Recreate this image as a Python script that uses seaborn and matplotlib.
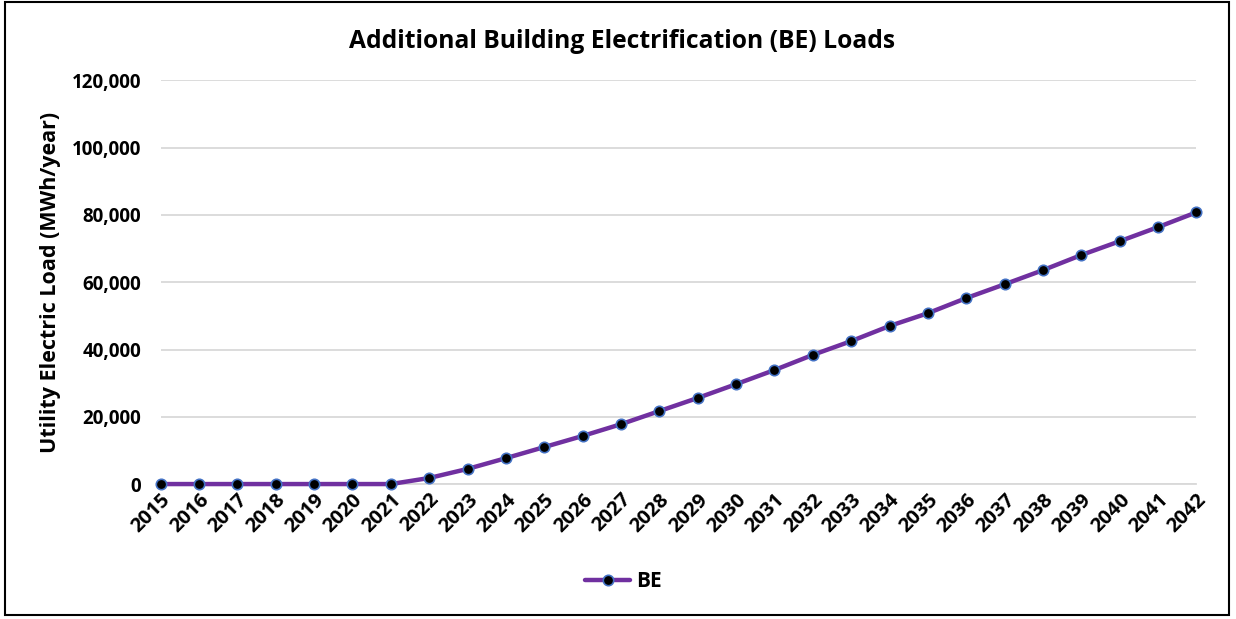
import pandas as pd
import numpy as np

import matplotlib.pyplot as plt
import seaborn as sns
from matplotlib.patches import Rectangle
from matplotlib.ticker import FuncFormatter

# datos
years = list(range(2015, 2043))
be_load = [0, 0, 0, 0, 0, 0, 0, 1800, 4500, 7700, 11000, 14300, 17800, 21700,
           25600, 29700, 33900, 38400, 42500, 47000, 50800, 55300, 59400, 63600,
           68100, 72200, 76400, 80800]
series_name = 'BE'

df = pd.DataFrame({'Year': years, 'Load': be_load, 'Serie': series_name})

sns.set_style("white")
plt.rcParams['font.family'] = ['Open Sans', 'DejaVu Sans']
plt.rcParams['font.weight'] = 'bold'
plt.rcParams['text.color'] = 'black'
plt.rcParams['xtick.labelcolor'] = 'black'
plt.rcParams['ytick.labelcolor'] = 'black'
plt.rcParams['axes.labelcolor'] = 'black'

fig, ax = plt.subplots(figsize=(12.36, 6.19), dpi=100)
fig.subplots_adjust(left=0.13, right=0.968, top=0.87, bottom=0.218)

sns.lineplot(data=df, x='Year', y='Load', hue='Serie', palette=['#7030A0'],
             linewidth=3.2, marker='o', markersize=7.5, markerfacecolor='black',
             markeredgecolor='#4472C4', markeredgewidth=1.2, ax=ax, clip_on=False,
             zorder=3)

ax.set_xlim(2015, 2042)
ax.set_ylim(0, 120000)
ax.set_yticks(np.arange(0, 120001, 20000))
ax.yaxis.set_major_formatter(FuncFormatter(lambda v, p: f'{int(v):,}'))
ax.set_xticks(years)
ax.set_xticklabels([str(y) for y in years], rotation=45, ha='right',
                   rotation_mode='anchor', fontsize=14.5, fontweight='bold')
ax.tick_params(axis='y', labelsize=13.5, length=0, pad=14)
ax.tick_params(axis='x', direction='in', length=6, width=1.3, color='#D9D9D9', pad=4)
for lab in ax.get_yticklabels():
    lab.set_fontweight('bold')

ax.grid(axis='y', color='#D9D9D9', linewidth=1.3)
ax.set_axisbelow(True)
for s in ['top', 'right', 'left']:
    ax.spines[s].set_visible(False)
ax.spines['bottom'].set_color('#D9D9D9')
ax.spines['bottom'].set_linewidth(1.3)

ax.set_xlabel('')
ax.set_ylabel('Utility Electric Load (MWh/year)', fontsize=15.5, fontweight='bold', labelpad=8)
fig.suptitle('Additional Building Electrification (BE) Loads', fontsize=17.7,
             fontweight='bold', x=0.503, y=0.953)

leg = ax.legend(loc='center', bbox_to_anchor=(0.504, 0.06), bbox_transform=fig.transFigure,
                frameon=False, fontsize=15, handlelength=2.2, handletextpad=0.25)
for t in leg.get_texts():
    t.set_fontweight('bold')
    t.set_color('black')

# marco exterior
fig.patches.append(Rectangle((0.004, 0.006), 0.99, 0.99, transform=fig.transFigure,
                             fill=False, edgecolor='black', linewidth=1.5))

plt.savefig('out.png', dpi=100)
